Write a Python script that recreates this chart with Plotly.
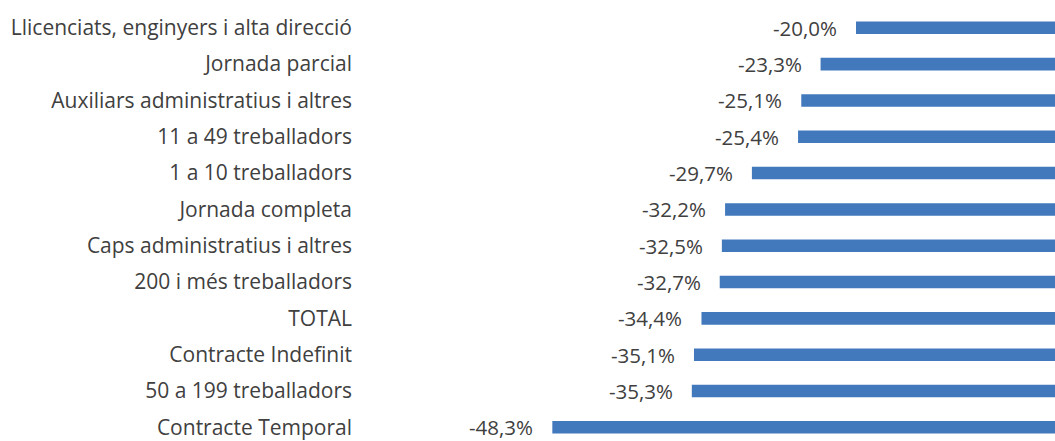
import plotly.graph_objects as go

categories = [
    "Llicenciats, enginyers i alta direcció",
    "Jornada parcial",
    "Auxiliars administratius i altres",
    "11 a 49 treballadors",
    "1 a 10 treballadors",
    "Jornada completa",
    "Caps administratius i altres",
    "200 i més treballadors",
    "TOTAL",
    "Contracte Indefinit",
    "50 a 199 treballadors",
    "Contracte Temporal",
]
values = [-20.0, -23.3, -25.1, -25.4, -29.7, -32.2, -32.5, -32.7, -34.4, -35.1, -35.3, -48.3]

BAR_COLOR = "#4279bd"
TEXT_COLOR = "#404040"
FONT = "Open Sans"

fig = go.Figure()
fig.add_trace(go.Bar(
    x=values,
    y=categories,
    orientation="h",
    width=0.345,
    marker=dict(color=BAR_COLOR, line=dict(width=0)),
    hoverinfo="skip",
))

for c, v in zip(categories, values):
    fig.add_annotation(
        x=v, y=c, xref="x", yref="y",
        text=f"{v:.1f}%".replace(".", ","),
        showarrow=False, xanchor="right", yanchor="middle",
        xshift=-17,
        font=dict(family=FONT, size=20.5, color=TEXT_COLOR),
    )

fig.update_layout(
    width=1055, height=441,
    margin=dict(l=358, r=0, t=0, b=0),
    paper_bgcolor="white", plot_bgcolor="white",
    showlegend=False,
)
fig.update_xaxes(range=[-66.41, -1.454], showgrid=False, zeroline=False,
                 showticklabels=False, ticks="", showline=False)
fig.update_yaxes(type="category", categoryorder="array", categoryarray=categories,
                 range=[11.294, -0.766], showgrid=False, zeroline=False,
                 ticks="", showline=False, ticklabelstandoff=5,
                 tickfont=dict(family=FONT, size=21, color=TEXT_COLOR))

fig.write_html("out.html",
               config={"displayModeBar": False},
               post_script="document.body.style.margin='0px';document.body.style.overflow='hidden';")
